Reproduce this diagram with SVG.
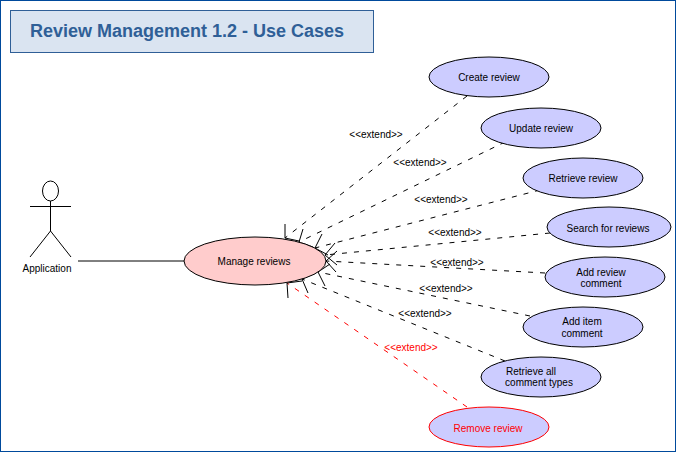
<svg xmlns="http://www.w3.org/2000/svg" width="676" height="452" viewBox="0 0 676 452">
<style>
text{font-family:"Liberation Sans",Arial,sans-serif;font-size:10px;fill:#000;text-anchor:middle}
.uc{fill:#ccccff;stroke:#000;stroke-width:1}
.c{fill:none;stroke:#000;stroke-width:1;stroke-dasharray:5 7}
.w{fill:none;stroke:#000;stroke-width:1}
.r{stroke:#f00}
text.rt{fill:#f00}
</style>
<rect x="0" y="0" width="676" height="452" fill="#fff"/>
<rect x="0.5" y="0.5" width="675" height="451" fill="none" stroke="#004a9c" stroke-width="1"/>
<g id="title"><rect x="10.5" y="10.5" width="363" height="42" fill="#dae4f1" stroke="#2f5f97" stroke-width="1"/>
<text x="187" y="37" style="font-size:18px;font-weight:bold;fill:#2f5f97">Review Management 1.2 - Use Cases</text></g>
<g id="connectors">
<line x1="78" y1="261" x2="185" y2="261" stroke="#000" stroke-width="1"/>
<path class="c" d="M467 96L285 238"/><path class="w" d="M285 224L285 238L299 241"/>
<path class="c" d="M505 142L299 242"/><path class="w" d="M303 229L299 242L313 247"/>
<path class="c" d="M540 190L315 248"/><path class="w" d="M322 234L315 248L328 255"/>
<path class="c" d="M550 233L325 255"/><path class="w" d="M335 243L325 255L337 265"/>
<path class="c" d="M545 273L326 261"/><path class="w" d="M337 251L326 261L336 272"/>
<path class="c" d="M530 316L318 272"/><path class="w" d="M330 264L318 272L325 286"/>
<path class="c" d="M505 361L302 279"/><path class="w" d="M316 273L302 279L308 293"/>
<path class="c r" d="M467 407L287 283"/><path class="w" d="M302 281L287 283L288 298"/>
</g>
<g id="actor" fill="none" stroke="#000" stroke-width="1"><ellipse cx="50.500" cy="191" rx="8" ry="10"/><path d="M50.500 201V231M30 206.500H71M50.500 231L30 257M50.500 231L71 257"/></g>
<text x="47" y="272">Application</text>
<g id="manage"><ellipse cx="255" cy="261" rx="71" ry="24" fill="#ffcccc" stroke="#000" stroke-width="1"/><text x="254" y="265">Manage reviews</text></g>
<g id="create"><ellipse class="uc" cx="489" cy="77" rx="60" ry="20"/><text x="489" y="81">Create review</text></g>
<g id="update"><ellipse class="uc" cx="541" cy="128" rx="60" ry="20"/><text x="541" y="132">Update review</text></g>
<g id="retrieve"><ellipse class="uc" cx="583" cy="178" rx="60" ry="20"/><text x="583" y="182">Retrieve review</text></g>
<g id="search"><ellipse class="uc" cx="609" cy="227" rx="62" ry="20"/><text x="608" y="232">Search for reviews</text></g>
<g id="addreview"><ellipse class="uc" cx="605" cy="277" rx="60" ry="20"/><text x="601" y="276">Add review</text><text x="601" y="287">comment</text></g>
<g id="additem"><ellipse class="uc" cx="583" cy="327" rx="60" ry="20"/><text x="582" y="325">Add item</text><text x="582" y="337">comment</text></g>
<g id="retrieveall"><ellipse class="uc" cx="541" cy="377" rx="60" ry="20"/><text x="531" y="375">Retrieve all</text><text x="539" y="386">comment types</text></g>
<g id="remove"><ellipse class="uc r" cx="489" cy="427" rx="60" ry="20"/><text class="rt" x="488" y="432">Remove review</text></g>
<g id="labels">
<text x="376" y="138">&lt;&lt;extend&gt;&gt;</text>
<text x="420" y="166">&lt;&lt;extend&gt;&gt;</text>
<text x="441" y="203">&lt;&lt;extend&gt;&gt;</text>
<text x="455" y="236">&lt;&lt;extend&gt;&gt;</text>
<text x="457" y="266">&lt;&lt;extend&gt;&gt;</text>
<text x="446" y="292">&lt;&lt;extend&gt;&gt;</text>
<text x="425" y="317">&lt;&lt;extend&gt;&gt;</text>
<text class="rt" x="411" y="351">&lt;&lt;extend&gt;&gt;</text>
</g>
</svg>
